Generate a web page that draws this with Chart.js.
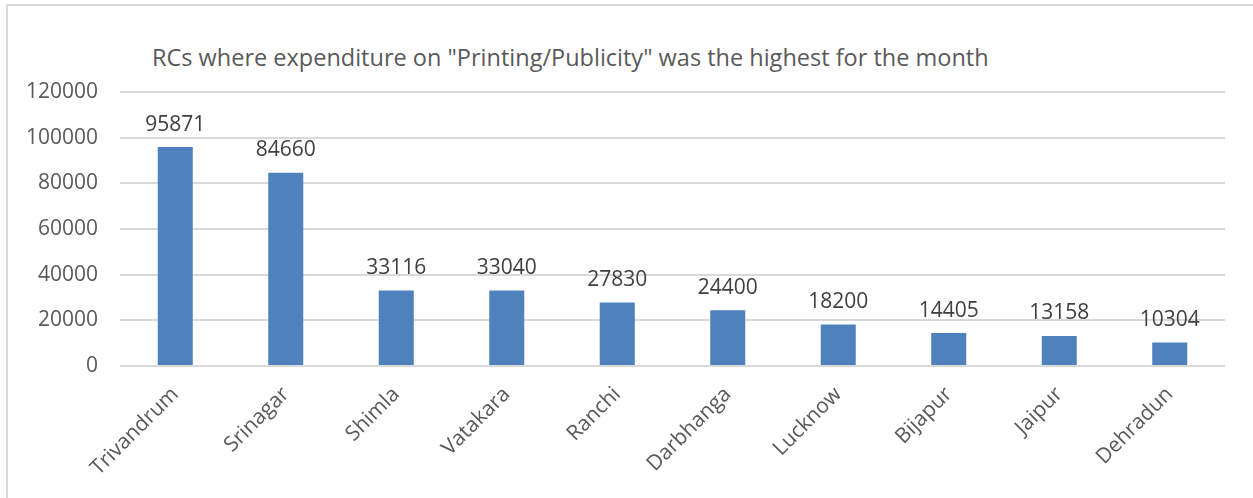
<!DOCTYPE html>
<html>
<head>
<meta charset="utf-8">
<script src="https://cdn.jsdelivr.net/npm/chart.js@4/dist/chart.umd.min.js"></script>
<style>
  html, body { margin: 0; padding: 0; background: #fff; overflow: hidden; }
  .frame {
    position: absolute; left: 6px; top: 4px; width: 1270px; height: 520px;
    border: 2px solid #d9d9d9; box-sizing: border-box;
  }
  .chart-title {
    position: absolute; left: 152px; top: 41px; white-space: nowrap;
    font: 23.5px "Open Sans", sans-serif; color: #595959; line-height: 32px;
  }
  .chart-box { position: absolute; left: 0; top: 0; width: 1253px; height: 498px; }
</style>
</head>
<body>
<div class="frame"></div>
<div class="chart-title">RCs where expenditure on "Printing/Publicity" was the highest for the month</div>
<div class="chart-box"><canvas id="rcChart"></canvas></div>
<script>
const rcNames = ["Trivandrum", "Srinagar", "Shimla", "Vatakara", "Ranchi",
  "Darbhanga", "Lucknow", "Bijapur", "Jaipur", "Dehradun"];
const spendValues = [95871, 84660, 33116, 33040, 27830, 24400, 18200, 14405, 13158, 10304];
const yTicks = [0, 20000, 40000, 60000, 80000, 100000, 120000];

// values above the bars
const barValueLabels = {
  id: "barValueLabels",
  afterDatasetsDraw(chart) {
    const { ctx } = chart;
    const meta = chart.getDatasetMeta(0);
    ctx.save();
    ctx.font = '21px "Open Sans", sans-serif';
    ctx.fillStyle = "#404040";
    ctx.textAlign = "center";
    ctx.textBaseline = "bottom";
    meta.data.forEach((bar, i) => {
      ctx.fillText(String(spendValues[i]), bar.x, bar.y - 12);
    });
    ctx.restore();
  },
};

const ctx = document.getElementById("rcChart").getContext("2d");
new Chart(ctx, {
  type: "bar",
  data: {
    labels: rcNames,
    datasets: [{
      data: spendValues,
      backgroundColor: "#4f81bd",
      categoryPercentage: 1,
      barPercentage: 0.317,
    }],
  },
  options: {
    responsive: true,
    maintainAspectRatio: false,
    animation: false,
    layout: { padding: { top: 92, right: 28, bottom: 0, left: 0 } },
    plugins: { legend: { display: false }, tooltip: { enabled: false } },
    scales: {
      x: {
        grid: { display: false },
        border: { display: false },
        ticks: {
          color: "#595959",
          font: { family: "Open Sans", size: 21 },
          maxRotation: 45,
          minRotation: 45,
          padding: 8,
        },
        afterFit(scale) { scale.height = 132; },
      },
      y: {
        min: 0,
        max: 120000,
        afterBuildTicks(scale) { scale.ticks = yTicks.map((v) => ({ value: v })); },
        grid: { color: "#d9d9d9", lineWidth: 2, drawTicks: false },
        border: { display: false },
        ticks: {
          color: "#595959",
          font: { family: "Open Sans", size: 21 },
          padding: 22,
          callback: (v) => String(v),
        },
        afterFit(scale) { scale.width = 120; },
      },
    },
  },
  plugins: [barValueLabels],
});
</script>
</body>
</html>
